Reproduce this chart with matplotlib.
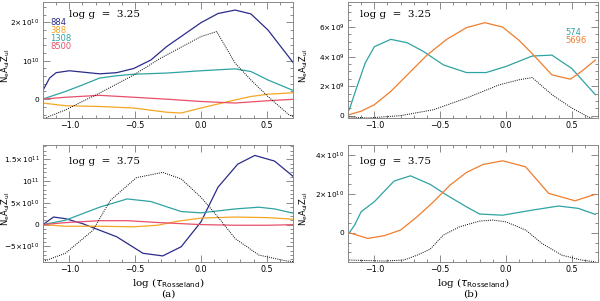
import numpy as np
import matplotlib
matplotlib.use("Agg")
import matplotlib.pyplot as plt
from matplotlib.ticker import FixedLocator, FixedFormatter, MultipleLocator

# ---- data (x = log tau_Rosseland) ----
# panel (a), log g = 3.25, y in units of 1e10
a1_884_x = [-1.205, -1.15, -1.10, -1.0, -0.77, -0.64, -0.51, -0.38, -0.26, 0.0, 0.13, 0.26, 0.38, 0.51, 0.72]
a1_884_y = [0.2, 0.55, 0.69, 0.74, 0.66, 0.69, 0.8, 1.02, 1.37, 1.99, 2.23, 2.32, 2.22, 1.8, 0.87]
a1_1308_x = [-1.205, -1.03, -0.9, -0.77, -0.64, -0.51, -0.26, 0.0, 0.26, 0.38, 0.51, 0.72]
a1_1308_y = [0.0, 0.2, 0.37, 0.55, 0.61, 0.65, 0.68, 0.74, 0.79, 0.72, 0.5, 0.2]
a1_388_x = [-1.205, -1.03, -0.77, -0.51, -0.26, -0.15, 0.0, 0.26, 0.38, 0.51, 0.72]
a1_388_y = [-0.1, -0.17, -0.19, -0.23, -0.34, -0.36, -0.23, -0.02, 0.07, 0.13, 0.17]
a1_8500_x = [-1.205, -1.03, -0.77, -0.51, -0.26, 0.0, 0.26, 0.51, 0.72]
a1_8500_y = [0.0, 0.05, 0.1, 0.05, 0.0, -0.06, -0.1, -0.04, 0.0]
a1_dot_x = [-1.205, -1.03, -0.77, -0.51, -0.31, 0.0, 0.12, 0.26, 0.38, 0.51, 0.67, 0.72]
a1_dot_y = [-0.52, -0.28, 0.16, 0.63, 1.06, 1.63, 1.76, 0.94, 0.5, 0.07, -0.41, -0.47]

# panel (a), log g = 3.75, y in units of 1e10
a2_884_x = [-1.2, -1.12, -1.03, -0.9, -0.77, -0.64, -0.44, -0.29, -0.15, 0.0, 0.13, 0.28, 0.41, 0.56, 0.72]
a2_884_y = [0.0, 1.74, 1.36, 0.23, -1.29, -2.8, -6.6, -7.2, -5.1, 0.6, 8.6, 13.9, 15.9, 14.6, 10.6]
a2_1308_x = [-1.2, -1.03, -0.77, -0.56, -0.38, -0.15, 0.0, 0.26, 0.44, 0.56, 0.72]
a2_1308_y = [0.0, 1.0, 4.0, 5.9, 5.3, 3.0, 2.7, 3.6, 4.0, 3.6, 2.5]
a2_388_x = [-1.2, -1.03, -0.77, -0.51, -0.33, -0.18, 0.0, 0.26, 0.51, 0.72]
a2_388_y = [0.0, -0.38, -0.38, -0.5, -0.15, 0.76, 1.5, 1.74, 1.6, 1.2]
a2_8500_x = [-1.2, -1.03, -0.77, -0.56, -0.31, 0.0, 0.26, 0.51, 0.72]
a2_8500_y = [0.0, 0.45, 0.9, 0.9, 0.45, 0.0, -0.15, -0.15, 0.0]
a2_dot_x = [-1.2, -1.03, -0.82, -0.69, -0.49, -0.29, -0.15, 0.0, 0.13, 0.26, 0.44, 0.64, 0.72]
a2_dot_y = [-8.5, -6.6, -1.3, 5.5, 10.8, 12.0, 10.5, 6.3, 1.74, -3.2, -7.0, -8.3, -8.6]

# panel (b), log g = 3.25, y in units of 1e9
b1_574_x = [-1.19, -1.14, -1.07, -1.0, -0.875, -0.75, -0.625, -0.475, -0.3, -0.15, 0.0, 0.2, 0.35, 0.5, 0.68]
b1_574_y = [0.4, 1.75, 3.55, 4.67, 5.17, 4.94, 4.34, 3.44, 2.92, 2.92, 3.33, 4.04, 4.1, 3.2, 1.42]
b1_5696_x = [-1.19, -1.1, -1.0, -0.875, -0.75, -0.6, -0.45, -0.3, -0.16, -0.025, 0.1, 0.2, 0.35, 0.49, 0.575, 0.68]
b1_5696_y = [0.07, 0.3, 0.74, 1.64, 2.76, 4.1, 5.17, 5.96, 6.3, 6.0, 5.1, 4.2, 2.76, 2.47, 3.0, 3.77]
b1_dot_x = [-1.19, -1.05, -0.8, -0.55, -0.3, -0.05, 0.1, 0.2, 0.35, 0.5, 0.625, 0.68]
b1_dot_y = [-0.09, -0.16, 0.0, 0.4, 1.19, 2.09, 2.43, 2.58, 1.42, 0.52, -0.09, -0.22]

# panel (b), log g = 3.75, y in units of 1e10
b2_574_x = [-1.19, -1.15, -1.1, -1.0, -0.85, -0.725, -0.575, -0.45, -0.3, -0.2, -0.025, 0.2, 0.4, 0.55, 0.68]
b2_574_y = [0.0, 0.39, 1.08, 1.59, 2.65, 2.92, 2.48, 1.93, 1.33, 0.96, 0.9, 1.16, 1.37, 1.25, 0.94]
b2_5696_x = [-1.19, -1.05, -0.925, -0.8, -0.675, -0.55, -0.425, -0.3, -0.175, -0.025, 0.15, 0.325, 0.525, 0.68]
b2_5696_y = [0.0, -0.29, -0.15, 0.14, 0.82, 1.59, 2.44, 3.09, 3.5, 3.69, 3.38, 2.02, 1.64, 1.97]
b2_dot_x = [-1.19, -0.925, -0.775, -0.675, -0.575, -0.475, -0.35, -0.2, -0.1, 0.0, 0.15, 0.275, 0.425, 0.575, 0.68]
b2_dot_y = [-1.4, -1.45, -1.4, -1.15, -0.84, -0.12, 0.31, 0.6, 0.65, 0.56, 0.14, -0.55, -1.15, -1.4, -1.49]

NAVY = "#2b2b8c"
ORANGE_A = "#f5a623"
TEAL = "#2fa3a3"
RED = "#e8506a"
ORANGE_B = "#f07d2d"

plt.rcParams["font.family"] = "DejaVu Sans"
plt.rcParams["mathtext.fontset"] = "dejavusans"

fig = plt.figure(figsize=(6.0, 3.01), dpi=100)
W = 250 / 600
ax_a1 = fig.add_axes([43 / 600, 1 - 118 / 301, W, 116 / 301])
ax_a2 = fig.add_axes([43 / 600, 1 - 262 / 301, W, 117 / 301])
ax_b1 = fig.add_axes([348 / 600, 1 - 118 / 301, W, 116 / 301])
ax_b2 = fig.add_axes([348 / 600, 1 - 262 / 301, W, 117 / 301])


def style(ax, yticks, ylabels, ylim, yminor, ylab_x):
    ax.set_xlim(-1.2, 0.7)
    ax.set_ylim(*ylim)
    ax.xaxis.set_major_locator(MultipleLocator(0.5))
    ax.xaxis.set_minor_locator(MultipleLocator(0.1))
    ax.yaxis.set_major_locator(FixedLocator(yticks))
    ax.yaxis.set_major_formatter(FixedFormatter(ylabels))
    ax.yaxis.set_minor_locator(MultipleLocator(yminor))
    ax.tick_params(which="both", direction="in", top=True, right=True,
                   color="#777777", labelsize=5.3, width=0.6)
    ax.tick_params(which="major", length=5, pad=2.5)
    ax.tick_params(which="minor", length=2.5)
    ax.tick_params(axis="x", labelsize=5.8)
    for s in ax.spines.values():
        s.set_color("#888888")
        s.set_linewidth(0.7)
    ax.set_ylabel(r"$\mathrm{N_eA_{ul}Z_{ul}}$", fontsize=6)
    ax.yaxis.set_label_coords(ylab_x, 0.45)


def mk(x, y, scale):
    return np.array(x), np.array(y) * scale


def tx(m, e):
    if m == "1":
        return r"$10^{%d}$" % e
    return r"$%s\!\times\!10^{%d}$" % (m, e)


lw = 0.9
# (a) top
for xs, ys, c in [(a1_884_x, a1_884_y, NAVY), (a1_1308_x, a1_1308_y, TEAL),
                  (a1_388_x, a1_388_y, ORANGE_A), (a1_8500_x, a1_8500_y, RED)]:
    ax_a1.plot(*mk(xs, ys, 1e10), color=c, lw=lw)
ax_a1.plot(*mk(a1_dot_x, a1_dot_y, 1e10), color="k", lw=0.7, ls=(0, (1, 1.2)))
style(ax_a1, [0, 1e10, 2e10], ["0", tx("1", 10), tx("2", 10)], (-0.49e10, 2.53e10), 2e9, -0.125)
for i, (lab, c) in enumerate([("884", NAVY), ("388", ORANGE_A), ("1308", TEAL), ("8500", RED)]):
    ax_a1.text(0.028, 0.82 - i * 0.069, lab, color=c, fontsize=6, transform=ax_a1.transAxes, va="center")
ax_a1.text(0.105, 0.89, "log g  =  3.25", family="serif", fontsize=7.5, transform=ax_a1.transAxes, va="center")

# (a) bottom
for xs, ys, c in [(a2_884_x, a2_884_y, NAVY), (a2_1308_x, a2_1308_y, TEAL),
                  (a2_388_x, a2_388_y, ORANGE_A), (a2_8500_x, a2_8500_y, RED)]:
    ax_a2.plot(*mk(xs, ys, 1e10), color=c, lw=lw)
ax_a2.plot(*mk(a2_dot_x, a2_dot_y, 1e10), color="k", lw=0.7, ls=(0, (1, 1.2)))
style(ax_a2, [-5e10, 0, 5e10, 1e11, 1.5e11],
      [r"$-5\!\times\!10^{10}$", "0", tx("5", 10), tx("1", 11), tx("1.5", 11)],
      (-0.86e11, 1.83e11), 1e10, -0.125)
ax_a2.text(0.105, 0.86, "log g  =  3.75", family="serif", fontsize=7.5, transform=ax_a2.transAxes, va="center")
ax_a2.set_xlabel(r"log ($\tau_{\rm Rosseland}$)", family="serif", fontsize=7.5, labelpad=1)

# (b) top
ax_b1.plot(*mk(b1_574_x, b1_574_y, 1e9), color=TEAL, lw=lw)
ax_b1.plot(*mk(b1_5696_x, b1_5696_y, 1e9), color=ORANGE_B, lw=lw)
ax_b1.plot(*mk(b1_dot_x, b1_dot_y, 1e9), color="k", lw=0.7, ls=(0, (1, 1.2)))
style(ax_b1, [0, 2e9, 4e9, 6e9], ["0", tx("2", 9), tx("4", 9), tx("6", 9)],
      (-0.16e9, 7.7e9), 5e8, -0.15)
ax_b1.text(0.87, 0.733, "574", color=TEAL, fontsize=6, transform=ax_b1.transAxes, va="center")
ax_b1.text(0.87, 0.664, "5696", color=ORANGE_B, fontsize=6, transform=ax_b1.transAxes, va="center")
ax_b1.text(0.048, 0.89, "log g  =  3.25", family="serif", fontsize=7.5, transform=ax_b1.transAxes, va="center")

# (b) bottom
ax_b2.plot(*mk(b2_574_x, b2_574_y, 1e10), color=TEAL, lw=lw)
ax_b2.plot(*mk(b2_5696_x, b2_5696_y, 1e10), color=ORANGE_B, lw=lw)
ax_b2.plot(*mk(b2_dot_x, b2_dot_y, 1e10), color="k", lw=0.7, ls=(0, (1, 1.2)))
style(ax_b2, [0, 2e10, 4e10], ["0", tx("2", 10), tx("4", 10)],
      (-1.5e10, 4.5e10), 5e9, -0.15)
ax_b2.text(0.048, 0.86, "log g  =  3.75", family="serif", fontsize=7.5, transform=ax_b2.transAxes, va="center")
ax_b2.set_xlabel(r"log ($\tau_{\rm Rosseland}$)", family="serif", fontsize=7.5, labelpad=1)

fig.text(168 / 600, 1 - 294 / 301, "(a)", family="serif", fontsize=7.5, ha="center", va="center")
fig.text(471 / 600, 1 - 294 / 301, "(b)", family="serif", fontsize=7.5, ha="center", va="center")

fig.savefig("out.png", dpi=100)
